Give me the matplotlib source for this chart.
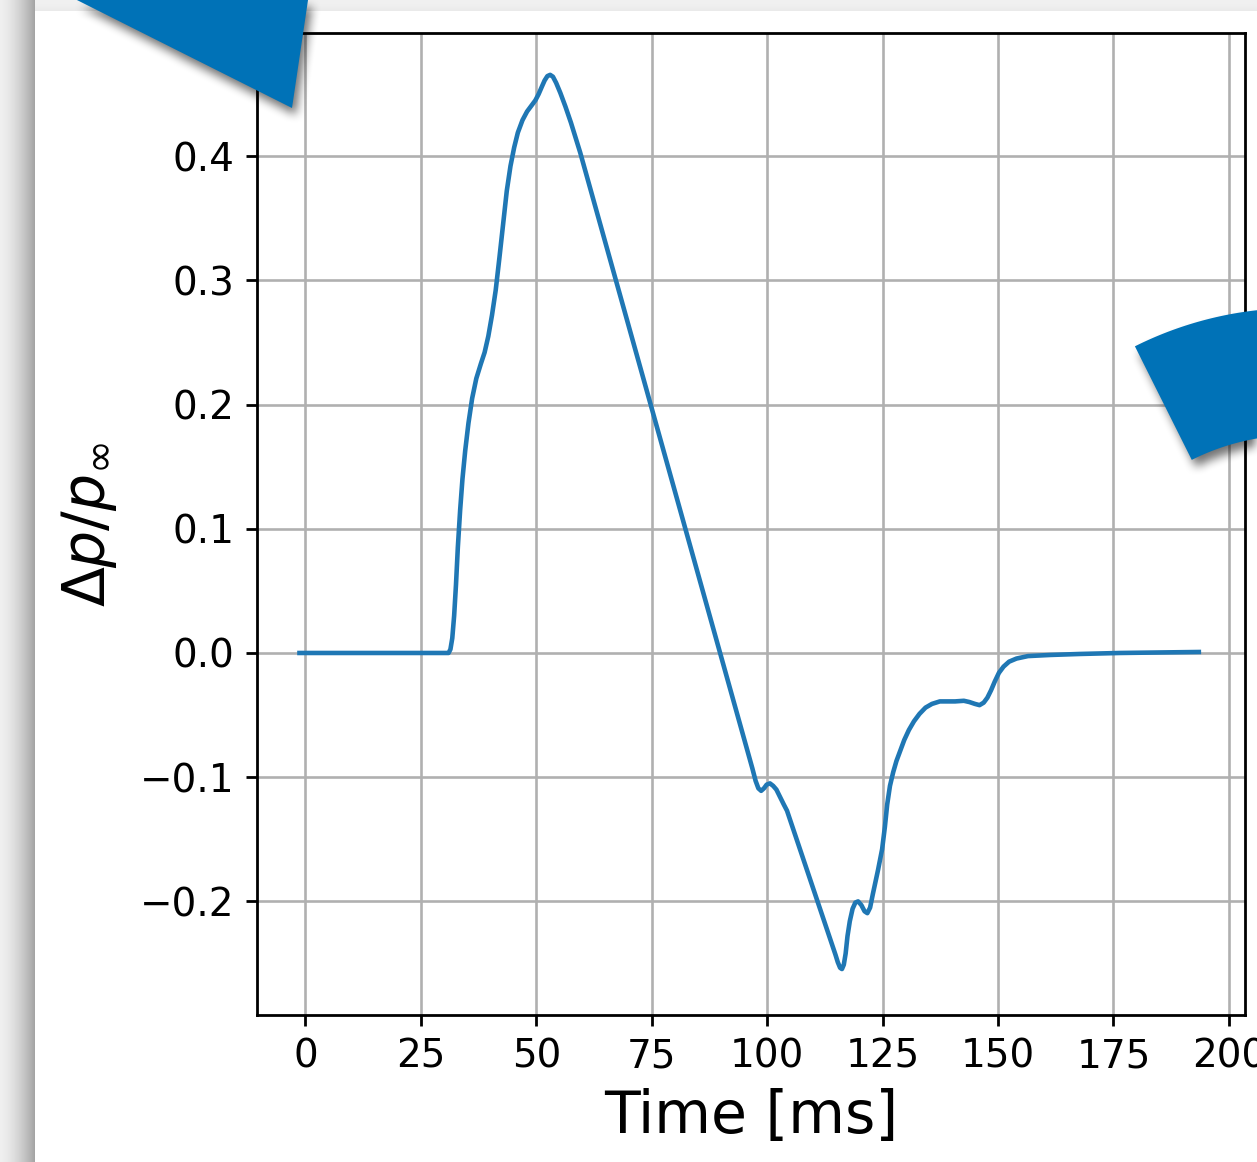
import numpy as np
import matplotlib
matplotlib.use("Agg")
import matplotlib.pyplot as plt
from matplotlib.path import Path
from matplotlib.patches import Polygon

# pressure signature
time_ms = [-1.3, 31.0, 31.4, 31.8, 32.2, 32.6, 33.0, 33.5, 34.0, 34.6, 35.3, 36.1, 37.0,
           38.0, 38.8, 39.6, 40.4, 41.2, 42.0, 42.8, 43.6, 44.4, 45.2, 46.0, 47.0, 48.0,
           49.0, 49.8, 50.5, 51.2, 51.8, 52.4, 53.0, 53.6, 54.3, 55.2, 56.3, 57.5, 59.5,
           96.8, 97.5, 98.1, 98.7, 99.3, 99.9, 100.6, 101.3, 102.0, 102.8, 103.6, 104.3,
           114.8, 115.3, 115.8, 116.2, 116.6, 117.0, 117.4, 117.9, 118.5, 119.1, 119.7,
           120.4, 121.1, 121.7, 122.3, 122.9, 124.0, 124.9, 125.5, 126.0, 126.6, 127.3,
           128.0, 128.8, 129.7, 130.7, 131.8, 133.0, 134.3, 135.7, 137.4, 140.7, 142.6,
           143.8, 145.0, 146.0, 146.9, 147.7, 148.5, 149.3, 150.2, 151.2, 152.4, 154.0,
           156.5, 161.3, 167.7, 176.4, 193.5]
dp_ratio = [0.0, 0.0, 0.003, 0.012, 0.030, 0.055, 0.085, 0.115, 0.140, 0.163, 0.185, 0.205, 0.221,
            0.233, 0.242, 0.255, 0.272, 0.292, 0.318, 0.345, 0.372, 0.392, 0.407, 0.419, 0.429, 0.436,
            0.441, 0.445, 0.450, 0.456, 0.461, 0.4645, 0.4655, 0.464, 0.459, 0.451, 0.440, 0.427, 0.403,
            -0.093, -0.103, -0.109, -0.111, -0.109, -0.106, -0.105, -0.107, -0.110, -0.116, -0.122, -0.127,
            -0.243, -0.249, -0.2535, -0.2545, -0.251, -0.242, -0.228, -0.216, -0.206, -0.201, -0.200,
            -0.203, -0.208, -0.2095, -0.205, -0.194, -0.175, -0.158, -0.140, -0.122, -0.107, -0.096,
            -0.087, -0.079, -0.070, -0.062, -0.055, -0.049, -0.044, -0.041, -0.039, -0.039, -0.0385,
            -0.0395, -0.041, -0.042, -0.040, -0.036, -0.030, -0.023, -0.016, -0.011, -0.007, -0.0045,
            -0.0025, -0.0016, -0.0008, 0.0, 0.0008]

x_ticks = [0, 25, 50, 75, 100, 125, 150, 175, 200]
y_ticks = [-0.2, -0.1, 0.0, 0.1, 0.2, 0.3, 0.4]

W, H = 1257, 1162
fig = plt.figure(figsize=(W / 100, H / 100), dpi=100)
fig.patch.set_facecolor("white")

# page backdrop: grey strip on top, card shadow falling to the left
bg = fig.add_axes([0, 0, 1, 1], zorder=0)
bg.set_axis_off()
xx = np.arange(W)[None, :] + 0.5
yy = np.arange(H)[:, None] + 0.5
grey = np.ones((H, W))
card_x, card_y = 35, 11
left = xx < card_x
grey = np.where(left, 0.94 - 0.30 * (xx / card_x) ** 1.6, grey)
top = (yy < card_y) & ~left
grey = np.where(top, 0.945 - 0.03 * (yy / card_y) ** 2, grey)
bg.imshow(np.dstack([grey] * 3), extent=(0, W, H, 0), interpolation="bilinear")
bg.set_xlim(0, W)
bg.set_ylim(H, 0)

# the plot itself
ax = fig.add_axes([257 / W, 1 - 1015 / H, (1245 - 257) / W, (1015 - 33) / H], zorder=1)
ax.plot(time_ms, dp_ratio, color="#1f77b4", lw=3.3, solid_joinstyle="round")
ax.set_xlim(-10.5, 203.5)
ax.set_ylim(-0.2915, 0.4992)
ax.set_xticks(x_ticks)
ax.set_yticks(y_ticks)
ax.grid(True, color="#b0b0b0", lw=1.9)
for s in ax.spines.values():
    s.set_linewidth(2.0)
ax.tick_params(labelsize=28, length=8, width=2.0, pad=8)
ax.set_xlabel("Time [ms]", fontsize=42, labelpad=9)
ax.set_ylabel(r"$\Delta p/p_\infty$", fontsize=42, labelpad=15)

# decorative blue shapes over the card, with soft drop shadows
ov = fig.add_axes([0, 0, 1, 1], zorder=3)
ov.set_axis_off()
ov.patch.set_alpha(0)

wedge = [(57, -10), (309.5, -10), (292, 108)]
cx, cy, r_out, r_in = 1297, 670, 362, 235
th = np.radians(np.linspace(-116.6, -60, 80))
arc = ([(cx + r_out * np.cos(t), cy + r_out * np.sin(t)) for t in th] +
       [(cx + r_in * np.cos(t), cy + r_in * np.sin(t)) for t in th[::-1]])


def box_blur(a, r):
    k = 2 * r + 1
    p = np.pad(a, ((r + 1, r), (0, 0)))
    c = np.cumsum(p, axis=0)
    a = (c[k:] - c[:-k]) / k
    p = np.pad(a, ((0, 0), (r + 1, r)))
    c = np.cumsum(p, axis=1)
    return (c[:, k:] - c[:, :-k]) / k


pts = np.column_stack([np.broadcast_to(xx, (H, W)).ravel(), np.broadcast_to(yy, (H, W)).ravel()])
mask = np.zeros(H * W)
for poly in (wedge, arc):
    mask = np.maximum(mask, Path(poly).contains_points(pts))
mask = mask.reshape(H, W)
shadow = np.zeros_like(mask)
shadow[7:, 4:] = mask[:-7, :-4]
shadow = box_blur(box_blur(shadow, 5), 5)
rgba = np.zeros((H, W, 4))
rgba[..., 3] = 0.55 * shadow
ov.imshow(rgba, extent=(0, W, H, 0), interpolation="bilinear")

for poly in (wedge, arc):
    ov.add_patch(Polygon(poly, closed=True, facecolor="#0072b7", edgecolor="none"))
ov.set_xlim(0, W)
ov.set_ylim(H, 0)

fig.savefig("out.png", dpi=100)
